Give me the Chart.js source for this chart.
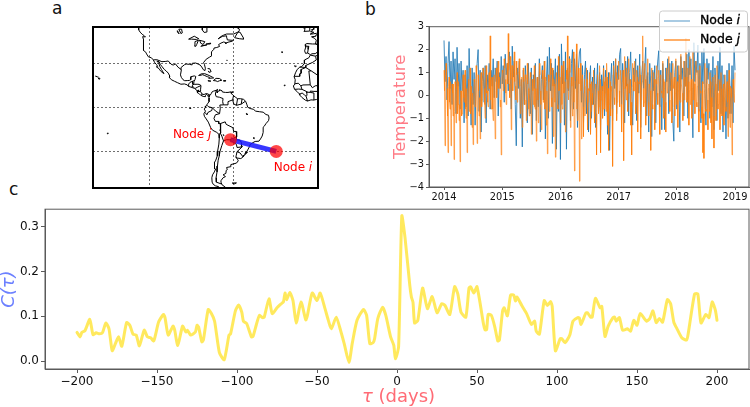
<!DOCTYPE html>
<html><head><meta charset="utf-8">
<script src="https://cdn.jsdelivr.net/npm/chart.js@4/dist/chart.umd.min.js"></script>
<style>
html,body{margin:0;padding:0;background:#fff;width:750px;height:407px;overflow:hidden}
canvas{position:absolute}
.p{position:absolute;font:17px "DejaVu Sans";color:#111;line-height:1}
</style></head><body>
<div class="p" style="left:52px;top:0px">a</div>
<div class="p" style="left:365px;top:1px">b</div>
<div class="p" style="left:9px;top:181px">c</div>
<div style="position:absolute;left:60px;top:0;width:290px;height:200px"><canvas id="map"></canvas></div>
<div style="position:absolute;left:380px;top:0;width:370px;height:205px"><canvas id="temp"></canvas></div>
<div style="position:absolute;left:0;top:200px;width:750px;height:207px"><canvas id="corr"></canvas></div>
<script>
// ---- panel c: cross-correlation
const lags=[-200,-198,-197,-195,-192,-190,-188,-186,-184,-182,-180,-178,-176,-174,-172,-169,-167,-165,-163,-161,-158,-156,-154,-152,-149,-146,-145,-143,-140,-139,-137,-134,-132,-131,-129,-126,-125,-124,-122,-121,-118,-116,-114,-111,-108,-105,-104,-101,-99,-97,-96,-94,-91,-90,-88,-86,-84,-83,-80,-78,-75,-73,-71,-70,-69,-67,-65,-63,-60,-57,-56,-53,-50,-48,-45,-43,-41,-38,-35,-33,-30,-28,-25,-21,-19,-17,-15,-14,-12,-9,-7,-4,-2,-1,1,3,5,8,9,10,11,13,16,19,22,25,28,30,33,36,38,40,43,45,46,48,50,54,55,56,57,59,61,63,64,66,67,69,71,73,74,75,78,81,84,86,87,89,92,94,96,97,99,102,103,105,108,110,113,114,115,118,119,121,122,124,127,128,130,132,135,136,137,139,141,144,146,148,150,152,156,158,160,162,164,166,169,171,173,175,178,181,182,186,188,190,193,195,197,199,200];
const corrVals=[.064,.054,.064,.068,.093,.059,.063,.061,.064,.085,.072,.023,.039,.054,.033,.086,.080,.060,.058,.034,.069,.054,.052,.045,.087,.104,.097,.058,.078,.070,.035,.078,.065,.069,.058,.065,.080,.076,.043,.047,.115,.106,.089,.019,.003,.058,.061,.112,.125,.109,.089,.084,.054,.055,.080,.102,.097,.098,.139,.106,.119,.126,.132,.152,.137,.153,.135,.085,.132,.092,.102,.152,.135,.152,.117,.092,.072,.098,.065,.039,-.003,.039,.091,.115,.102,.039,.041,.050,.095,.120,.102,.054,.035,.005,.032,.324,.276,.169,.143,.131,.085,.091,.163,.117,.144,.108,.128,.124,.104,.166,.150,.109,.098,.163,.166,.152,.166,.084,.070,.070,.104,.102,.078,.045,.047,.112,.119,.101,.147,.147,.134,.143,.124,.106,.082,.089,.067,.060,.135,.124,.133,.122,.023,.050,.050,.041,.058,.089,.097,.096,.082,.107,.108,.098,.098,.140,.119,.122,.055,.078,.097,.098,.089,.097,.069,.072,.067,.091,.080,.106,.089,.095,.112,.086,.095,.087,.137,.128,.087,.072,.052,.047,.061,.150,.150,.085,.104,.097,.132,.113,.091];
const corrXTicks=[-200,-150,-100,-50,0,50,100,150,200];
const corrYTicks=[0,0.1,0.2,0.3];

// ---- panel b: temperature anomalies, spikes
const years=[2014,2015,2016,2017,2018,2019];
const tempYTicks=[-4,-3,-2,-1,0,1,2,3];
const nodeI=[2.4,0.6,1.7,-0.2,1.4,2.35,0.3,1.5,-0.4,1.9,
0.7,1.6,-0.8,2.1,0.4,1.4,-0.6,1.5,0.2,1.1,
-1.2,0.9,-0.5,1.3,-0.9,2.05,0.3,-1.3,1.2,-0.4,
1.0,-1.3,0.8,1.4,2.0,-0.7,1.1,-1.6,0.6,1.2,
-0.3,1.3,-1.2,0.9,0.2,1.4,-0.6,1.1,0.4,1.6,
-0.1,1.2,0.6,1.5,-0.9,1.0,0.3,1.7,0.5,1.3,
-0.3,1.8,0.9,1.4,0.2,1.9,1.0,-0.6,2.15,0.8,
1.5,-0.4,-2.2,1.2,0.3,1.5,-1.0,0.7,-2.25,1.1,
-0.4,1.3,0.5,-1.2,1.4,0.1,-0.8,1.2,-1.7,0.9,
0.3,1.4,-1.1,0.8,-0.5,1.6,-1.6,0.7,1.3,-0.2,
1.5,-1.9,0.6,1.7,-1.0,2.1,0.2,1.4,-2.1,1.1,
0.4,1.6,-2.35,1.3,-0.7,1.8,-2.8,2.25,0.5,1.5,
-1.3,1.9,-2.35,1.2,0.2,1.7,-1.1,1.4,2.0,-0.6,
1.6,0.3,1.8,-1.4,1.2,1.9,2.05,-0.3,1.3,-1.2,
0.9,1.5,-0.8,1.1,-1.6,0.6,1.3,-1.0,0.8,-0.4,
1.2,-1.4,0.5,1.4,-0.7,1.0,-1.5,0.9,0.2,1.3,
-0.9,1.1,0.4,-1.7,1.0,-2.4,0.6,1.4,-1.1,1.5,
0.3,1.6,-0.8,1.3,0.7,1.8,2.05,-0.4,1.4,0.6,
-1.2,1.5,0.4,1.7,-0.9,1.0,1.9,0.2,-1.3,1.2,
0.6,1.6,-1.1,1.3,0.1,1.8,-1.4,0.9,1.5,0.3,
1.2,2.1,-0.9,1.0,-1.6,1.4,0.5,-1.8,1.1,0.2,
1.3,-1.2,0.8,1.5,1.95,-0.5,1.1,-1.5,1.4,0.3,
-1.5,1.2,0.6,1.6,-0.8,1.4,0.2,1.5,-1.1,-2.0,
1.0,1.5,-0.6,1.3,0.5,-1.6,1.7,0.7,1.2,-0.9,
1.5,0.4,1.8,-1.0,2.0,0.9,1.6,0.2,-1.85,2.3,
0.6,1.5,1.0,2.2,-0.7,1.4,-1.2,1.9,0.5,2.05,
0.3,-1.3,1.6,0.7,1.4,-1.0,1.1,-0.5,1.7,-1.5,
1.2,0.4,-1.1,1.5,0.2,2.1,-0.8,1.3,-1.6,0.9,
0.2,-1.9,1.1,-1.0,1.4,0.4,-0.8,1.3,-1.2,2.15,1.1];
const nodeJ=[1.1,-2.2,1.4,0.3,-2.5,0.8,-0.6,-2.2,0.5,-0.9,
-2.8,0.6,-1.2,1.0,-0.4,-1.1,-2.9,0.2,-0.8,0.9,
-0.3,1.1,-1.0,-2.5,0.4,-0.7,1.2,0.1,-1.4,-2.15,
0.7,-0.5,1.3,-2.1,0.9,-0.9,-1.9,1.0,-0.2,1.2,
0.3,-1.0,1.3,0.2,-0.5,1.0,2.6,-0.6,0.8,-1.1,
0.9,-1.9,1.2,0.4,1.5,0.6,-0.5,-2.6,1.1,0.2,
1.6,0.7,-0.4,1.4,2.7,0.5,1.7,-1.5,1.3,0.9,
1.9,0.4,1.5,-0.3,1.0,1.6,-0.8,0.6,-1.4,1.2,
-0.2,0.9,-1.1,1.4,0.3,-0.9,1.0,-1.7,0.7,-0.4,
1.3,-0.6,-2.0,0.8,-1.2,1.4,0.2,-1.5,1.1,-0.3,
1.5,0.4,-1.3,-2.55,0.9,-0.7,1.6,-0.1,1.2,-1.8,
0.5,-2.7,1.0,-0.4,1.7,0.3,-1.2,1.3,-0.6,1.5,
0.2,-1.6,1.1,2.6,-0.2,1.6,-1.4,0.8,-0.9,1.9,
-3.3,0.6,2.25,-1.1,1.2,-3.75,1.4,-1.9,0.9,-1.8,
0.7,-0.9,1.2,-1.5,0.3,1.0,-1.7,0.6,-0.4,1.1,
-1.2,0.5,-2.6,0.9,-0.8,1.3,-2.5,0.2,-1.0,1.2,
-0.6,0.8,1.4,-1.3,-2.4,1.0,-0.9,0.4,-3.1,1.3,
-0.4,1.6,-1.1,0.7,1.5,-0.5,1.1,-1.6,0.9,-2.85,
1.7,0.3,1.2,-0.7,1.6,0.5,-1.3,-2.6,1.4,0.2,
1.5,-0.8,1.1,-1.6,0.6,1.3,-1.9,0.4,2.6,-0.5,
1.4,-1.3,0.8,1.6,-0.9,0.5,-2.4,1.2,-0.6,1.0,
-1.5,0.7,1.3,-0.4,1.1,-1.7,0.9,0.1,1.5,-1.0,
0.6,-1.6,1.2,0.2,1.7,-0.7,1.0,-1.2,1.4,0.3,
-0.9,1.6,0.4,-1.4,1.3,-0.2,1.8,0.5,-1.1,1.5,
0.8,2.5,-0.3,1.2,-1.3,1.7,0.4,-1.0,1.9,0.6,
-0.8,1.5,-0.5,1.1,-1.6,1.3,0.2,-1.0,-2.5,-2.75,
1.4,-0.7,1.2,-1.5,0.5,1.0,-1.2,-1.9,0.8,-2.3,
0.9,-1.1,1.3,-0.6,0.7,-1.5,1.0,-0.9,0.4,-1.3,
0.9,-0.7,0.6,-1.8,1.1,-1.4,0.3,-2.6,0.7,-0.3,1.0];
// the dense orange core between the spikes
const nodeJCore=[0.2,-0.6,0.7,-0.9,0.4,-0.3,0.6,-1.0,0.1,0.5,
-0.7,0.3,-0.2,-0.8,0.6,-0.4,0.2,-0.9,0.5,-0.1,
0.8,-0.6,0.3,-0.5,0.7,-0.2,-0.8,0.4,0.1,-0.6,
0.6,-0.3,0.9,-0.7,0.2,-0.1,0.8,-0.5,0.4,0.9,
-0.4,0.6,0.1,-0.3,0.8,0.3,-0.2,0.7,-0.6,0.5,
0.9,0.2,-0.1,1.1,0.3,0.8,-0.2,0.6,1.0,0.4,
1.2,0.1,0.9,0.5,1.1,-0.1,0.7,1.3,0.2,1.0,
0.6,-0.2,0.9,0.3,1.1,0.4,-0.3,0.8,0.2,0.6,
-0.4,0.7,0.1,0.5,-0.6,0.4,0.8,-0.3,0.2,0.6,
-0.5,0.3,0.7,-0.2,0.5,0.9,-0.4,0.1,0.7,0.3,
-0.6,0.8,0.2,-0.4,0.6,0.1,0.9,-0.5,0.4,0.7,
-0.3,0.5,1.0,-0.6,0.2,0.8,0.3,-0.4,0.9,0.1,
0.6,-0.5,0.7,0.3,-0.2,1.0,-0.7,0.4,0.6,-0.3,
0.1,0.8,-0.6,0.3,0.5,-0.8,0.2,0.6,-0.5,0.1,
-0.9,0.4,0.7,-0.3,0.2,0.5,-0.7,0.1,0.6,-0.4,
0.3,-0.8,0.5,0.2,-0.5,0.7,-0.2,0.4,-0.6,0.6,
0.1,-0.7,0.8,0.3,-0.4,0.6,0.2,-0.6,0.9,-0.1,
0.5,1.0,-0.3,0.7,0.2,0.9,-0.4,0.6,1.1,0.3,
0.8,-0.2,0.5,1.0,0.1,0.7,-0.3,0.4,0.9,0.2,
0.6,-0.4,0.8,0.1,0.5,0.9,-0.2,0.6,0.3,-0.3,
0.7,0.1,0.9,-0.3,0.5,0.2,0.8,-0.4,0.3,0.7,
-0.2,0.5,0.1,0.8,-0.4,0.6,0.2,-0.1,0.7,0.3,
-0.3,0.6,0.1,0.9,-0.2,0.4,0.7,-0.5,0.3,0.8,
0.1,-0.4,0.6,0.2,0.9,-0.3,0.5,0.1,0.7,-0.2,
0.4,0.8,-0.1,0.6,0.2,-0.4,0.7,0.3,-0.2,0.5,
0.9,-0.3,0.4,-0.6,0.7,0.1,-0.5,0.6,-0.8,0.2,
-0.6,0.5,-0.2,0.3,-0.7,0.6,-0.1,0.4,-0.9,0.2,
0.5,-0.6,0.1,-0.4,0.6,-0.2,0.3,-0.7,0.5,-0.1,
-0.5,0.3,-0.3,0.2,-0.8,0.4,-0.1,-0.6,0.3,0.1];

// ---- panel a: map outlines as [longitude, latitude]
const americas=[[-127.8,56],[-127.5,53],[-126.5,51.5],[-125,50],[-123.5,49],[-122.7,48.2],[-124.7,48.4],[-124.1,46.5],[-124.1,43],[-124.4,40.4],[-123.8,39],[-122.5,37.8],[-121.9,36.6],[-120.6,34.6],[-118.5,34],[-117.2,32.6],[-116,30.5],[-115,29.5],[-114,28.1],[-115,27.8],[-113,26.5],[-112,25],[-110.3,23.6],[-109.5,23.2],[-110.3,24.3],[-111.3,26],[-112.5,28],[-113.3,30.5],[-114.7,31.7],[-113,31.3],[-112.2,29.5],[-110.8,27.8],[-109.3,26],[-108,25],[-106.5,23.5],[-105.4,21.5],[-105.6,20.4],[-104.3,19],[-102,17.9],[-100,17],[-97.5,15.9],[-95,16.1],[-93,15.5],[-92.2,14.5],[-90,13.8],[-87.7,13],[-86,11.5],[-85.7,10],[-84.7,9.6],[-83.5,8.4],[-81.7,7.6],[-80.3,7.4],[-80,8.2],[-79.5,8.95],[-78.4,8.4],[-78,7.4],[-77.4,6.6],[-77.5,4],[-78.6,2.5],[-79.7,1],[-80.1,0],[-80.9,-1.1],[-80,-2.5],[-81.2,-4.3],[-80.8,-6],[-79.5,-7.8],[-78,-10],[-76.3,-13.8],[-75,-15.5],[-72,-17],[-70.4,-18.4],[-70.2,-21],[-70.5,-25],[-71.4,-29.9],[-71.6,-33],[-72.7,-36],[-73.6,-37.5],[-73.4,-40],[-73.8,-41.8],[-72.8,-42],[-73.7,-44],[-75,-46],[-75.5,-48],[-75.3,-51],[-74.5,-52.5],[-73,-53.5],[-71,-54],[-71,-56]];
const atlantic=[[-68,-56],[-68,-54.9],[-65.5,-54.8],[-68.3,-52.7],[-69,-51],[-69,-50],[-67.5,-48],[-65.8,-47.2],[-67.5,-46],[-65.5,-45],[-65.3,-43],[-64.5,-42.5],[-65,-41],[-62.5,-40.5],[-62,-39],[-58,-38],[-56.7,-36.4],[-57.3,-35.3],[-58.4,-34],[-57.5,-34.5],[-54.9,-34.9],[-53.5,-34],[-51.5,-31.5],[-50,-29],[-48.6,-26.5],[-48.5,-25.5],[-46.3,-24],[-44.7,-23.2],[-42,-23],[-40.9,-21.5],[-39.7,-19.5],[-39,-17],[-39,-13.5],[-38.3,-12.9],[-37,-11],[-35.2,-9],[-34.8,-7.2],[-35.2,-5.3],[-37,-4.8],[-39,-3.2],[-41.5,-2.9],[-44.3,-2.5],[-46,-1.2],[-48.3,-0.7],[-50,0.2],[-50.5,1.8],[-51.5,4.3],[-53,5.6],[-55,6],[-57.2,6],[-58.5,6.9],[-60.5,8.4],[-62,10],[-61.9,10.7],[-64,10.3],[-65.8,10.3],[-68,10.6],[-68.3,11.5],[-70,12.1],[-70,11.4],[-71.3,11],[-71.6,10],[-72,11],[-71.4,12.4],[-72.5,11.7],[-74.2,11.2],[-75.3,10.7],[-76,9.4],[-76.8,8.2],[-77.4,8.7],[-78.5,9.4],[-79.6,9.5],[-81,8.9],[-82.2,9],[-83.6,10.9],[-83.5,12.5],[-83.2,15],[-84.5,15.8],[-86,15.9],[-88,15.8],[-88.7,15.9],[-88.3,17.5],[-87.5,19],[-86.9,21.2],[-88,21.6],[-90.4,21],[-90.5,19],[-91.5,18.5],[-93,18.4],[-94.8,18.3],[-96,19],[-97.2,20.6],[-97.8,22.3],[-97.2,25.5],[-97.4,27.3],[-95,29.2],[-93.8,29.7],[-91.5,29.5],[-89.5,29.1],[-89.5,30.2],[-87,30.4],[-85.3,29.7],[-83.8,29],[-82.7,27.7],[-81.5,25.8],[-80.4,25.2],[-80.1,26.8],[-80.8,29.5],[-81.4,30.7],[-79.5,33],[-77,34.5],[-75.6,35.3],[-76,37],[-75.5,38],[-74.2,39.7],[-74,40.6],[-72,41],[-70,41.7],[-70.7,43],[-69,44],[-67,44.8],[-65,44],[-66,43.7],[-64,44.6],[-61,45.3],[-60,46.2],[-61,45.9],[-64.5,46.2],[-64.8,47.7],[-65,49],[-68,48.6],[-71,46.9],[-69,48.5],[-67,49.5],[-65,50.2],[-60,50.2],[-57,51.5],[-56,52.5],[-56,53.7],[-58,54.8],[-60,56]];
const jamesBay=[[-82,56],[-82.3,53],[-81,51.3],[-79.3,51.5],[-79,52.5],[-79,54.5],[-77,56]];
const cuba=[[-84.9,21.9],[-83,23],[-80.5,23.1],[-77.5,21.9],[-75,20.7],[-74.2,20.2],[-77.7,19.9],[-77.2,20.6],[-78.5,21],[-80.5,21.8],[-82,22.4],[-84,21.9],[-84.9,21.9]];
const hispaniola=[[-74.4,18.4],[-72.5,19.9],[-70,19.8],[-68.4,18.6],[-70,18.3],[-71.5,17.7],[-72.5,18.2],[-74.4,18.4]];
const jamaica=[[-78.3,18.3],[-77,18.4],[-76.2,18],[-77.2,17.8],[-78.3,18.3]];
const puertoRico=[[-67.2,18.4],[-65.7,18.4],[-65.8,18],[-67.2,18],[-67.2,18.4]];
const trinidad=[[-61.9,10.1],[-60.9,10.8],[-61,10.1],[-61.9,10.1]];
const bahamas=[[-78,25],[-77.5,24],[-76,24.5],[-77,26.5],[-78.5,26.6]];
const hawaii=[[-155.5,19.2],[-155,19.7],[-155.8,20.2],[-156,19.6],[-155.5,19.2]];
const hawaii2=[[-157.8,21.5],[-158.2,21.4],[-156.5,20.8],[-156,20.7]];
const newfoundland=[[-59.3,47.7],[-57,51.4],[-55.5,51.5],[-53,47.5],[-53,46.7],[-56,47],[-59.3,47.7]];
const superior=[[-92,46.7],[-88,48.7],[-84.8,47],[-86.5,46.5],[-90,46.7],[-92,46.7]];
const michigan=[[-87.8,42],[-87.5,45],[-85,46],[-86.3,43],[-87,41.7],[-87.8,42]];
const huron=[[-84.5,46],[-80.5,45],[-81.7,43],[-83.5,44],[-84,45.8],[-84.5,46]];
const erie=[[-83.3,41.8],[-79,42.8],[-83,42.1],[-83.3,41.8]];
const ontario=[[-79.7,43.3],[-76.3,44],[-76.5,43.4],[-79.7,43.3]];
const winnipeg=[[-97.5,50.5],[-99,53.5],[-97,53.5],[-96.5,51],[-97.5,50.5]];
const manitoba=[[-98.8,50.3],[-99.9,51.5],[-100,52.5],[-99.2,51.2],[-98.8,50.3]];
const titicaca=[[-70,-15.5],[-69,-16.3],[-69.4,-16.3],[-70,-15.5]];
const poopo=[[-67.3,-18.5],[-66.8,-19],[-67.2,-19.2],[-67.3,-18.5]];
const patos=[[-51.2,-30.3],[-50.5,-31],[-52,-32],[-51.8,-31.2],[-51.2,-30.3]];
const mirim=[[-52.8,-32.5],[-53.5,-33.6],[-52.9,-33.2],[-52.8,-32.5]];
const nicaragua=[[-85.7,11.2],[-85,12],[-84.9,11.1],[-85.7,11.2]];
const furnas=[[-45.6,-20.4],[-45.3,-21.3],[-46,-21],[-45.6,-20.4]];
const tucurui=[[-51,-4],[-50.2,-4.4],[-50.4,-5],[-51,-4]];
const galapagos=[[-91.4,-0.4],[-90.3,-0.4],[-90.8,-1],[-91.4,-0.4]];
const tahiti=[[-149.8,-17.5],[-149.1,-17.5],[-149.4,-18],[-149.8,-17.5]];
const capeVerde=[[-24,15.3],[-23.3,15.3],[-23.6,14.8],[-24,15.3]];
const canary=[[-16.8,28.4],[-15.4,28.2],[-16,27.9],[-16.8,28.4]];
const azores=[[-26,37.9],[-25,37.9],[-25.5,37.6],[-26,37.9]];
const falkland=[[-61,-51.6],[-58,-51.5],[-59.5,-52.2],[-61,-51.6]];
const bermuda=[[-64.9,32.4],[-64.6,32.4],[-64.7,32.2],[-64.9,32.4]];
const africa=[[1,36],[-2,35.1],[-5.5,35.8],[-6.5,34],[-9.5,32.5],[-9.7,30],[-11.5,28],[-13,27.5],[-14.8,26],[-16,23.7],[-17,21],[-16.2,19],[-16.5,16],[-17.5,14.7],[-16.7,12.5],[-15,11],[-13.5,9.5],[-13,8.5],[-11.5,6.9],[-9,5],[-7.5,4.4],[-5,5.2],[-3,5.1],[-1,5.5],[1,5.9]];
const iberia=[[1,43],[-1.8,43.4],[-4,43.4],[-8,43.7],[-9.2,43],[-8.8,41],[-9.5,38.7],[-8.9,37],[-7.4,37.2],[-6.3,36.6],[-5.4,36.1],[-4.3,36.7],[-2,36.8],[-0.7,37.6],[0,38.7],[1,39]];
const france=[[-1.8,43.4],[-1.2,46],[-2.5,47.3],[-4.6,48.3],[-1.5,48.7],[-1.5,49.6],[1,50]];
const britain=[[-5.6,50.1],[-3.5,50.3],[-1,50.7],[1,51],[1,53],[0,53.7],[-1.5,55],[-2,56],[-5,56],[-5,54.8],[-3.5,54.9],[-3,53.4],[-4.5,53.3],[-4,52.3],[-5.3,51.8],[-3,51.4],[-5.6,50.1]];
const ireland=[[-10,52],[-6.3,52.2],[-6,53.5],[-5.7,54.7],[-7,55.2],[-8.5,54.5],[-10,54],[-9.2,53],[-10,52]];
const borders=[
[[-117.1,32.5],[-114.7,32.7],[-111,31.3],[-108.2,31.5],[-106.5,31.8],[-104.5,29.6],[-103,29],[-101.4,29.8],[-99.5,27.5],[-97.2,25.9]],
[[-92.2,14.5],[-92,16],[-91,17.2],[-89.2,17.9],[-88.3,18.4]],
[[-89.2,17.9],[-89.2,15.9],[-88.2,15.7]],
[[-90.1,13.8],[-89.3,14.4],[-88.5,13.9],[-87.8,13.3]],
[[-89.2,15],[-89.3,14.4]],
[[-87.4,13],[-85.5,14],[-83.2,15]],
[[-85.7,11],[-83.7,10.9]],
[[-83,8.3],[-82.6,9.5]],
[[-77.4,8.7],[-77.4,7.2]],
[[-71.5,12.2],[-72.5,11],[-73,9.2],[-72.4,7.4],[-70,7],[-67.5,6.1],[-67.8,4],[-67.3,1.8],[-69.8,1.7],[-69.5,-0.5],[-70,-4.2],[-72.9,-2.4],[-75.2,-0.1],[-77.6,0.4],[-78.8,1.4]],
[[-75.2,-0.1],[-75.5,-2],[-78.3,-3.4],[-79,-5],[-80.3,-3.4]],
[[-70,-4.2],[-73,-5],[-74,-7.5],[-73,-9.5],[-70.6,-9.5],[-70.6,-11],[-69.5,-11],[-69,-12.8],[-69.3,-16],[-69.5,-17.5],[-70.4,-18.3]],
[[-69.5,-11],[-66,-9.8],[-65.3,-11.5],[-60.5,-13.8],[-60,-16.3],[-58.2,-16.4],[-57.7,-18.2],[-58,-20],[-62.5,-22],[-62.7,-22.1]],
[[-69.5,-17.5],[-68.4,-19.5],[-67.2,-22.8],[-65,-22],[-62.7,-22.1],[-58,-25.2],[-57.6,-27.3],[-54.6,-27],[-54.6,-25.6],[-54.3,-24],[-55.5,-22.3],[-57.9,-22],[-58,-20]],
[[-67.2,-22.8],[-68.4,-26],[-69.7,-30],[-70.2,-33],[-71,-36],[-71.5,-40],[-71.8,-44],[-72.5,-48],[-72.3,-51],[-68.5,-52.3]],
[[-54.6,-25.6],[-53.7,-26.7],[-57.6,-30.2],[-58.2,-33],[-58.4,-34]],
[[-57.6,-30.2],[-55.5,-31],[-53.3,-33.7]],
[[-60,8.5],[-60.7,5.2],[-59.9,2.4],[-58,1.5],[-54.6,2.3],[-51.8,4.2]],
[[-67.3,1.8],[-64,1.8],[-64,4],[-60.7,5.2]],
[[-57.2,6],[-58,1.5]],
[[-54,5.8],[-54.6,2.3]],
[[-1.7,35],[-1.2,32.5],[-3.7,30.9],[-8.7,28.7],[-8.7,27.3],[-13,27.7]],
[[-8.7,27.3],[-12,26],[-12,23.4],[-13,23],[-13,21.3],[-17,21.3]],
[[-8.7,27.3],[-4.8,25],[0,21.9]],
[[-4.8,25],[-6.5,25],[-5.5,15.5],[-10.7,15.4],[-12.2,14.8],[-14,16.6],[-16.4,16.2]],
[[-12.2,14.8],[-11.4,12.4],[-13.7,12.6],[-16.7,12.4]],
[[-11.4,12.4],[-8.3,11],[-8,10],[-7.8,8.5],[-8.4,7.6],[-9.5,8.5],[-11.3,9.9],[-13,9.1]],
[[-8.4,7.6],[-7.5,4.4]],
[[-3.1,5.1],[-2.9,9.9],[-5.4,10.3],[-8,10.5]],
[[-5.4,10.3],[-5.5,11.2],[-2.9,11],[1,11]],
[[-5.5,15.5],[-4,13.5],[-2,14.8],[0,15],[1,15]],
[[-8.8,41.9],[-6.5,41.8],[-7,39.7],[-7.4,37.2]],
[[1,42.6],[-1.8,43.4]]
];
const coastlines=[americas,atlantic,jamesBay,cuba,hispaniola,jamaica,puertoRico,trinidad,bahamas,hawaii,hawaii2,newfoundland,superior,michigan,huron,erie,ontario,winnipeg,manitoba,titicaca,poopo,patos,mirim,nicaragua,furnas,tucurui,galapagos,tahiti,capeVerde,canary,azores,falkland,bermuda,africa,iberia,france,britain,ireland];
const meridians=[-120,-60];
const parallels=[-30,0,30];
const nodeLon=[-29.7,-62.3];
const nodeLat=[-30,-22];

// ---- helpers
const FONT='"DejaVu Sans"';
const SPINE='#5a5a5a', TICKTXT='#111';
const fmtNum=v=>String(v).replace('-','\u2212');
function drawRuns(ctx,x,y,runs,color,bold){
  ctx.save();ctx.fillStyle=color;ctx.strokeStyle=color;ctx.textBaseline='middle';ctx.textAlign='left';
  let cx=x;
  for(const r of runs){ctx.font=r.font;ctx.fillText(r.t,cx,y);if(bold){ctx.lineWidth=.35;ctx.strokeText(r.t,cx,y);}cx+=ctx.measureText(r.t).width;}
  ctx.restore();
}
const frame=w=>({id:'frame',afterDatasetsDraw(c){const a=c.chartArea,x=c.ctx;x.save();x.strokeStyle=w>1?'#000':SPINE;x.lineWidth=w;x.strokeRect(a.left,a.top,a.right-a.left,a.bottom-a.top);x.restore();}});
const fitW=w=>s=>{s.width=w};
const fitH=h=>s=>{s.height=h};
const ticksFrom=list=>s=>{s.ticks=list.map(v=>({value:v}))};

// ---- panel c
new Chart(document.getElementById('corr'),{
 type:'scatter',
 data:{datasets:[{data:lags.map((l,i)=>({x:l,y:corrVals[i]})),showLine:true,pointRadius:0,borderColor:'rgba(255,232,84,.95)',borderWidth:3,borderJoinStyle:'round',borderCapStyle:'round',tension:.2}]},
 plugins:[frame(1),{id:'xt',afterDraw(c){
   const cx=c.ctx;const y=197;
   const runs=[{t:'\u03c4',font:'italic 18px '+FONT},{t:' (days)',font:'18px '+FONT}];
   cx.save();let w=0;for(const r of runs){cx.font=r.font;w+=cx.measureText(r.t).width;}cx.restore();
   drawRuns(cx,398.5-w/2,y,runs,'#ff6b75');
 }}],
 options:{responsive:true,maintainAspectRatio:false,animation:false,events:[],
  layout:{padding:{left:0,top:8,right:1,bottom:0}},
  plugins:{legend:{display:false},tooltip:{enabled:false}},
  scales:{
   x:{type:'linear',min:-220,max:220,afterFit:fitH(38),afterBuildTicks:ticksFrom(corrXTicks),
      grid:{drawOnChartArea:false,tickLength:4,color:SPINE},border:{color:SPINE},
      ticks:{font:{family:FONT,size:12},color:TICKTXT,padding:2,maxRotation:0,autoSkip:false,callback:fmtNum}},
   y:{type:'linear',min:-0.0177,max:0.339,afterFit:fitW(45),afterBuildTicks:ticksFrom(corrYTicks),
      title:{display:true,text:'C(\u03c4)',color:'#6c80ff',font:{family:FONT,size:18,style:'italic',lineHeight:1},padding:0},
      grid:{drawOnChartArea:false,tickLength:4,color:SPINE},border:{color:SPINE},
      ticks:{font:{family:FONT,size:12},color:TICKTXT,padding:2,callback:v=>v.toFixed(1)}}
  }}
});

// ---- panel b
const legendPlugin={id:'leg',afterDraw(c){
  const x=c.ctx;x.save();
  x.fillStyle='rgba(255,255,255,.8)';x.strokeStyle='#ccc';x.lineWidth=1;
  x.beginPath();x.roundRect(279.5,11,88,41,3);x.fill();x.stroke();
  x.lineWidth=1.4;
  x.strokeStyle='rgba(31,119,180,.55)';x.beginPath();x.moveTo(284,21);x.lineTo(310,21);x.stroke();
  x.strokeStyle='rgba(255,127,14,.9)';x.beginPath();x.moveTo(284,40);x.lineTo(310,40);x.stroke();
  x.restore();
  const n='12.5px '+FONT,it='italic 12.5px '+FONT;
  drawRuns(x,320,21,[{t:'Node ',font:n},{t:'i',font:it}],'#000',true);
  drawRuns(x,320,40,[{t:'Node ',font:n},{t:'j',font:it}],'#000',true);
}};
const stepYears=5/(nodeI.length-1);
const pointsI=nodeI.map((v,i)=>({x:2014+i*stepYears,y:v}));
const pointsJ=[];
nodeJ.forEach((v,i)=>{
  pointsJ.push({x:2014+i*stepYears,y:v});
  if(i<nodeJCore.length)pointsJ.push({x:2014+(i+.5)*stepYears,y:nodeJCore[i]});
});
new Chart(document.getElementById('temp'),{
 type:'scatter',
 data:{datasets:[
  {data:pointsI,order:2,showLine:true,pointRadius:0,borderColor:'#1f77b4',borderWidth:.85},
  {data:pointsJ,order:1,showLine:true,pointRadius:0,borderColor:'rgba(255,127,14,.8)',borderWidth:.85}
 ]},
 plugins:[frame(1),legendPlugin],
 options:{responsive:true,maintainAspectRatio:false,animation:false,events:[],
  layout:{padding:{left:0,top:26.7,right:1,bottom:0}},
  plugins:{legend:{display:false},tooltip:{enabled:false}},
  scales:{
   x:{type:'linear',min:2013.742,max:2019.24,afterFit:fitH(18),afterBuildTicks:ticksFrom(years),
      grid:{drawOnChartArea:false,tickLength:3,color:SPINE},border:{color:SPINE},
      ticks:{font:{family:FONT,size:9.8},color:TICKTXT,padding:2,maxRotation:0,autoSkip:false,callback:v=>String(v)}},
   y:{type:'linear',min:-4,max:3,afterFit:fitW(49),afterBuildTicks:ticksFrom(tempYTicks),
      title:{display:true,text:'Temperature',color:'#ff7b86',font:{family:FONT,size:16.5,lineHeight:1},padding:{top:12,bottom:0}},
      grid:{drawOnChartArea:false,tickLength:3,color:SPINE},border:{color:SPINE},
      ticks:{font:{family:FONT,size:9.8},color:TICKTXT,padding:2,callback:fmtNum}}
  }}
});

// ---- panel a
const mapSets=coastlines.concat(borders).map(line=>({data:line.map(p=>({x:p[0],y:p[1]})),order:3,showLine:true,pointRadius:0,borderColor:'#000',borderWidth:1,tension:0}));
mapSets.push({data:nodeLon.map((v,i)=>({x:v,y:nodeLat[i]})),order:2,showLine:true,pointRadius:0,borderColor:'rgba(20,20,255,.85)',borderWidth:5});
mapSets.push({data:nodeLon.map((v,i)=>({x:v,y:nodeLat[i]})),order:1,showLine:false,pointRadius:6.5,pointBackgroundColor:'rgba(255,0,0,.72)',pointBorderWidth:0});
new Chart(document.getElementById('map'),{
 type:'scatter',
 data:{datasets:mapSets},
 plugins:[frame(2),{id:'nl',afterDraw(c){
   const n='12px '+FONT,it='italic 12px '+FONT,s=c.scales;
   drawRuns(c.ctx,s.x.getPixelForValue(nodeLon[1])-57.5,s.y.getPixelForValue(nodeLat[1])-5,[{t:'Node ',font:n},{t:'j',font:it}],'#f00');
   drawRuns(c.ctx,s.x.getPixelForValue(nodeLon[0])-2.5,s.y.getPixelForValue(nodeLat[0])+16,[{t:'Node ',font:n},{t:'i',font:it}],'#f00');
 }}],
 options:{responsive:true,maintainAspectRatio:false,animation:false,events:[],
  layout:{padding:{left:33,top:27,right:32,bottom:12}},
  plugins:{legend:{display:false},tooltip:{enabled:false}},
  scales:{
   x:{type:'linear',min:-160,max:0,afterFit:fitH(0),afterBuildTicks:ticksFrom(meridians),
      grid:{color:'#333',lineWidth:.7,drawTicks:false},border:{display:false,dash:[2,2]},ticks:{display:false}},
   y:{type:'linear',min:-55,max:55,afterFit:fitW(0),afterBuildTicks:ticksFrom(parallels),
      grid:{color:'#333',lineWidth:.7,drawTicks:false},border:{display:false,dash:[2,2]},ticks:{display:false}}
  }}
});
</script>
</body></html>
